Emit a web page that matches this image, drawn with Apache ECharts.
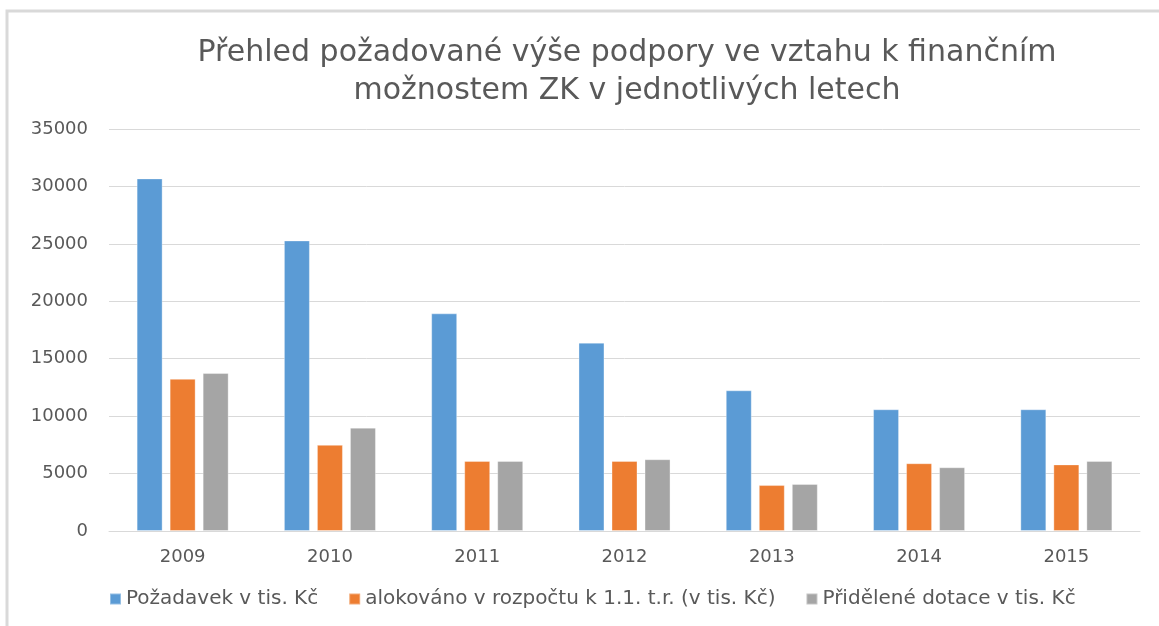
<!DOCTYPE html>
<html>
<head>
<meta charset="utf-8">
<script src="https://cdn.jsdelivr.net/npm/echarts@6/dist/echarts.min.js"></script>
<style>
  html, body { margin: 0; padding: 0; background: #fff; }
  #chart { width: 1159px; height: 626px; }
</style>
</head>
<body>
<div id="chart"></div>
<script>
const years = ["2009", "2010", "2011", "2012", "2013", "2014", "2015"];
const pozadavek = [30700, 25300, 18950, 16400, 12250, 10600, 10600];
const alokovano = [13250, 7500, 6100, 6100, 4000, 5900, 5800];
const pridelene = [13750, 9000, 6100, 6250, 4100, 5550, 6100];
const seriesNames = [
  "Požadavek v tis. Kč",
  "alokováno v rozpočtu k 1.1. t.r. (v tis. Kč)",
  "Přidělené dotace v tis. Kč"
];
const colors = ["#5b9bd5", "#ed7d31", "#a5a5a5"];

const font = "DejaVu Sans";
const textColor = "#595959";

const chart = echarts.init(document.getElementById("chart"));

function bar(name, data, color) {
  return {
    name,
    type: "bar",
    data,
    barWidth: 26,
    barGap: "27%",
    itemStyle: { color, borderColor: "rgba(255,255,255,0.35)", borderWidth: 1 }
  };
}

chart.setOption({
  color: colors,
  textStyle: { fontFamily: font },
  graphic: [
    {
      type: "rect",
      shape: { x: 7, y: 11, width: 1400, height: 800 },
      style: { fill: null, stroke: "#d9d9d9", lineWidth: 3 },
      silent: true
    },
    {
      type: "text",
      x: 627,
      y: 34,
      style: {
        text: "Přehled požadované výše podpory ve vztahu k finančním\nmožnostem ZK v jednotlivých letech",
        align: "center",
        fontFamily: font,
        fontSize: 30,
        lineHeight: 38,
        fill: textColor
      }
    }
  ],
  legend: {
    data: seriesNames,
    bottom: 12,
    left: 104,
    icon: "rect",
    itemWidth: 11,
    itemHeight: 11,
    itemGap: 30,
    textStyle: { fontFamily: font, fontSize: 20, color: textColor }
  },
  grid: { left: 109, right: 19, top: 129, bottom: 95, containLabel: false },
  xAxis: {
    type: "category",
    data: years,
    axisLine: { lineStyle: { color: "#d9d9d9", width: 1 } },
    axisTick: { show: false },
    axisLabel: { fontFamily: font, fontSize: 18, color: textColor, margin: 17 }
  },
  yAxis: {
    type: "value",
    min: 0,
    max: 35000,
    interval: 5000,
    axisLine: { show: false },
    axisTick: { show: false },
    splitLine: { lineStyle: { color: "#d9d9d9", width: 1 } },
    axisLabel: { fontFamily: font, fontSize: 18, color: textColor, margin: 21, formatter: v => String(v) }
  },
  series: [
    bar(seriesNames[0], pozadavek, colors[0]),
    bar(seriesNames[1], alokovano, colors[1]),
    bar(seriesNames[2], pridelene, colors[2])
  ]
});
</script>
</body>
</html>
